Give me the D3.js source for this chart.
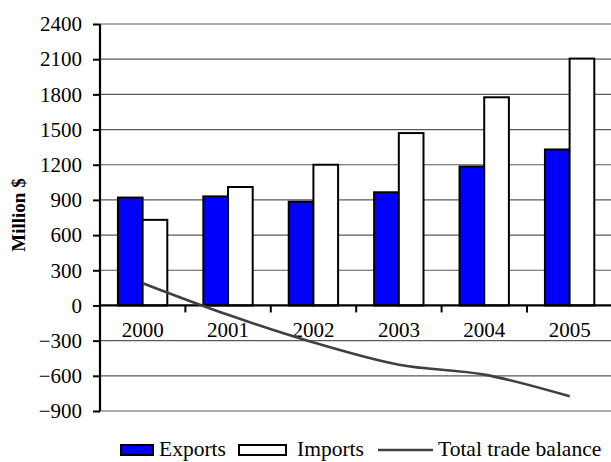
<!DOCTYPE html>
<html>
<head>
<meta charset="utf-8">
<script src="https://cdn.jsdelivr.net/npm/d3@7"></script>
<style>
  html, body { margin: 0; padding: 0; background: #fff; }
  svg { display: block; }
  text { font-family: "Liberation Serif", "Times New Roman", serif; fill: #000; }
</style>
</head>
<body>
<svg id="chart" width="611" height="462"></svg>
<script>
// Trade figures, million $
const years = ["2000", "2001", "2002", "2003", "2004", "2005"];
const exportsVals = [920, 930, 885, 965, 1185, 1330];
const importsVals = [730, 1010, 1200, 1470, 1775, 2105];
const balanceVals = [190, -80, -315, -505, -590, -775];
const yTicks = [-900, -600, -300, 0, 300, 600, 900, 1200, 1500, 1800, 2100, 2400];
const seriesNames = ["Exports", "Imports", "Total trade balance"];
const yTitle = "Million $";

const svg = d3.select("#chart");
const plot = { left: 100, right: 612.4, top: 24, bottom: 411 };
const serif = '"Liberation Serif", "Times New Roman", serif';

const x = d3.scaleBand().domain(years).range([plot.left, plot.right]).paddingInner(0).paddingOuter(0);
const y = d3.scaleLinear().domain([-900, 2400]).range([plot.bottom, plot.top]);

const step = x.bandwidth();
const barW = step * 0.289;
const groupOff = step * 0.21;

// horizontal gridlines
svg.append("g").selectAll("line").data(yTicks.filter(v => v !== 0)).join("line")
  .attr("x1", plot.left).attr("x2", plot.right)
  .attr("y1", d => y(d)).attr("y2", d => y(d))
  .attr("stroke", "#5a5a5a").attr("stroke-width", 1.2);

// bars
const groups = svg.append("g").selectAll("g").data(years).join("g");
groups.append("rect")
  .attr("x", d => x(d) + groupOff)
  .attr("y", (d, i) => y(exportsVals[i]))
  .attr("width", barW)
  .attr("height", (d, i) => y(0) - y(exportsVals[i]))
  .attr("fill", "#0000ff").attr("stroke", "#000").attr("stroke-width", 2);
groups.append("rect")
  .attr("x", d => x(d) + groupOff + barW)
  .attr("y", (d, i) => y(importsVals[i]))
  .attr("width", barW)
  .attr("height", (d, i) => y(0) - y(importsVals[i]))
  .attr("fill", "#ffffff").attr("stroke", "#000").attr("stroke-width", 2);

// category axis along zero
const xAxis = d3.axisBottom(x).tickSize(0).tickFormat(d => d);
const gx = svg.append("g").attr("transform", `translate(0,${y(0)})`).call(xAxis);
gx.attr("font-family", null);
gx.select(".domain").remove();
gx.selectAll("text").attr("font-size", 21).attr("dy", null).attr("y", 32)
  .style("font-family", serif);
svg.append("line").attr("x1", plot.left).attr("x2", plot.right)
  .attr("y1", y(0)).attr("y2", y(0)).attr("stroke", "#000").attr("stroke-width", 2.2);
svg.append("g").selectAll("line").data(years).join("line")
  .attr("x1", d => x(d)).attr("x2", d => x(d))
  .attr("y1", y(0)).attr("y2", y(0) + 7)
  .attr("stroke", "#000").attr("stroke-width", 2);

// value axis
const yAxis = d3.axisLeft(y).tickValues(yTicks).tickSize(7).tickPadding(11).tickFormat(d3.format("d"));
const gy = svg.append("g").attr("transform", `translate(${plot.left},0)`).call(yAxis);
gy.attr("font-family", null);
gy.select(".domain").attr("stroke-width", 2.2).attr("d", `M0,${plot.top}V${plot.bottom}`);
gy.selectAll(".tick line").attr("stroke-width", 2);
gy.selectAll("text").attr("font-size", 21).style("font-family", serif);

svg.append("text")
  .attr("transform", `translate(25,215) rotate(-90)`)
  .attr("text-anchor", "middle")
  .attr("font-size", 19).attr("font-weight", "bold")
  .text(yTitle);

// trade balance line
const line = d3.line()
  .x((d, i) => x(years[i]) + step / 2)
  .y(d => y(d))
  .curve(d3.curveCardinal.tension(0));
svg.append("path").datum(balanceVals)
  .attr("d", line).attr("fill", "none")
  .attr("stroke", "#404040").attr("stroke-width", 2.6);

// legend
const lg = svg.append("g");
const ly = 456;
lg.append("rect").attr("x", 121).attr("y", ly - 11).attr("width", 32).attr("height", 10)
  .attr("fill", "#0000ff").attr("stroke", "#000").attr("stroke-width", 2);
lg.append("text").attr("x", 159).attr("y", ly).attr("font-size", 21.5).text(seriesNames[0]);
lg.append("rect").attr("x", 239).attr("y", ly - 11).attr("width", 47).attr("height", 10)
  .attr("fill", "#fff").attr("stroke", "#000").attr("stroke-width", 2);
lg.append("text").attr("x", 297).attr("y", ly).attr("font-size", 21.5).text(seriesNames[1]);
lg.append("line").attr("x1", 378).attr("x2", 433).attr("y1", ly - 6).attr("y2", ly - 6)
  .attr("stroke", "#404040").attr("stroke-width", 2.6);
lg.append("text").attr("x", 438).attr("y", ly).attr("font-size", 21.5).text(seriesNames[2]);
</script>
</body>
</html>
